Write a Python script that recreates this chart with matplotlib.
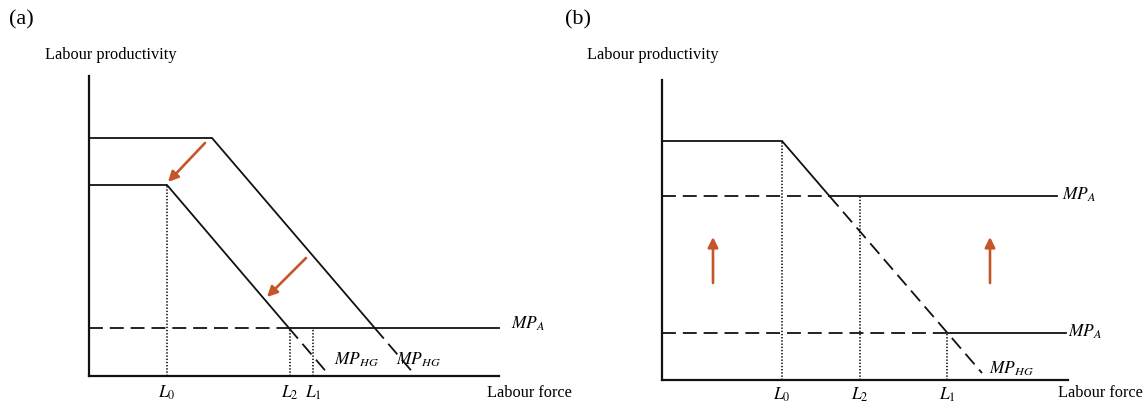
import matplotlib
matplotlib.use("Agg")
import matplotlib.pyplot as plt

plt.rcParams["font.family"] = ["Liberation Serif", "DejaVu Serif"]
plt.rcParams["mathtext.fontset"] = "stix"
plt.rcParams["lines.scale_dashes"] = False

# ---- Panel (a): human-capital MP curves shift down, agricultural MP fixed ----
a_xmax, a_ymax = 41.0, 30.0
a_hg_high = [[0.0, 12.3, 32.6], [23.8, 23.8, 0.1]]     # MP_HG before shift
a_hg_low = [[0.0, 7.8, 24.0], [19.1, 19.1, 0.1]]       # MP_HG after shift
a_mpa = 4.8                                            # MP_A level
a_L = {"L_0": 7.8, "L_2": 20.1, "L_1": 22.4}
a_L_tops = {"L_0": 19.1, "L_2": 4.8, "L_1": 4.8}
a_arrows = [((11.6, 23.3), (7.9, 19.4)), ((21.7, 11.8), (17.8, 7.9))]

# ---- Panel (b): agricultural MP shifts up, MP_HG fixed ----
b_xmax, b_ymax = 40.6, 30.0
b_hg = [[0.0, 12.0, 32.0], [23.9, 23.9, 0.7]]
b_mpa_high, b_mpa_low = 18.4, 4.7
b_mpa_high_end, b_mpa_low_end = 39.5, 40.4
b_L = {"L_0": 12.0, "L_2": 19.8, "L_1": 28.5}
b_L_tops = {"L_0": 23.9, "L_2": 18.4, "L_1": 4.7}
b_arrow_x = [5.1, 32.8]
b_arrow_y = (9.7, 14.3)

W, H = 1146, 405
fig = plt.figure(figsize=(W / 100, H / 100), dpi=100)

BLACK = "#111111"
ORANGE = "#c4562a"
LW = 1.3
DASH = (0, (10, 5))
DOT = (0, (1.0, 1.3))
TXT = 11.8
MATH = 12.5


def make_axes(ox, oy, xmax, ymax):
    ax = fig.add_axes([ox / W, (H - oy) / H, xmax * 10 / W, ymax * 10 / H])
    ax.set_xlim(0, xmax)
    ax.set_ylim(0, ymax)
    for s in ("top", "right"):
        ax.spines[s].set_visible(False)
    for s in ("left", "bottom"):
        ax.spines[s].set_linewidth(1.6)
        ax.spines[s].set_color(BLACK)
    ax.set_xticks([])
    ax.set_yticks([])
    ax.patch.set_alpha(0)
    return ax


def crossing_x(xs, ys, level):
    # x where the sloped segment of a piecewise MP curve reaches a given level
    x1, x2 = xs[1], xs[2]
    y1, y2 = ys[1], ys[2]
    return x1 + (level - y1) * (x2 - x1) / (y2 - y1)


def split_curve(ax, xs, ys, level):
    xc = crossing_x(xs, ys, level)
    ax.plot([xs[0], xs[1], xc], [ys[0], ys[1], level], color=BLACK, lw=LW,
            solid_joinstyle="miter", clip_on=False)
    ax.plot([xc, xs[2]], [level, ys[2]], color=BLACK, lw=LW, linestyle=DASH, clip_on=False)
    return xc


def orange_arrow(ax, start, end):
    ax.annotate("", xy=end, xytext=start,
                arrowprops=dict(arrowstyle="-|>,head_length=0.6,head_width=0.3",
                                color=ORANGE, lw=1.9, shrinkA=0, shrinkB=0))


# ------------------------- panel (a) -------------------------
ax = make_axes(89, 376, a_xmax, a_ymax)
x_low = split_curve(ax, *a_hg_low, a_mpa)
x_high = split_curve(ax, *a_hg_high, a_mpa)
ax.plot([0, x_low], [a_mpa, a_mpa], color=BLACK, lw=LW, linestyle=DASH)
ax.plot([x_low, a_xmax], [a_mpa, a_mpa], color=BLACK, lw=LW, clip_on=False)
for k, xv in a_L.items():
    ax.plot([xv, xv], [0, a_L_tops[k]], color=BLACK, lw=1.2, linestyle=DOT)
    ax.text(xv, -1.7, f"${k}$", ha="center", va="center", fontsize=MATH)
for s, e in a_arrows:
    orange_arrow(ax, s, e)
ax.text(42.2, 5.2, r"$MP_A$", ha="left", va="center", fontsize=MATH)
ax.text(24.5, 1.6, r"$MP_{HG}$", ha="left", va="center", fontsize=MATH)
ax.text(30.7, 1.6, r"$MP_{HG}$", ha="left", va="center", fontsize=MATH)
ax.text(-4.4, 32.1, "Labour productivity", ha="left", va="center", fontsize=TXT)
ax.text(39.8, -1.7, "Labour force", ha="left", va="center", fontsize=TXT)
fig.text(9 / W, 1 - 20 / H, "(a)", ha="left", va="center", fontsize=16)

# ------------------------- panel (b) -------------------------
bx = make_axes(662, 380, b_xmax, b_ymax)
xs, ys = b_hg
x_up = crossing_x(xs, ys, b_mpa_high)
x_dn = crossing_x(xs, ys, b_mpa_low)
bx.plot([xs[0], xs[1], x_up], [ys[0], ys[1], b_mpa_high], color=BLACK, lw=LW,
        solid_joinstyle="miter")
bx.plot([x_up, xs[2]], [b_mpa_high, ys[2]], color=BLACK, lw=LW, linestyle=DASH)
bx.plot([0, x_up], [b_mpa_high, b_mpa_high], color=BLACK, lw=LW, linestyle=DASH)
bx.plot([x_up, b_mpa_high_end], [b_mpa_high, b_mpa_high], color=BLACK, lw=LW)
bx.plot([0, x_dn], [b_mpa_low, b_mpa_low], color=BLACK, lw=LW, linestyle=DASH)
bx.plot([x_dn, b_mpa_low_end], [b_mpa_low, b_mpa_low], color=BLACK, lw=LW)
for k, xv in b_L.items():
    bx.plot([xv, xv], [0, b_L_tops[k]], color=BLACK, lw=1.2, linestyle=DOT)
    bx.text(xv, -1.5, f"${k}$", ha="center", va="center", fontsize=MATH)
for xv in b_arrow_x:
    orange_arrow(bx, (xv, b_arrow_y[0]), (xv, b_arrow_y[1]))
bx.text(40.0, 18.5, r"$MP_A$", ha="left", va="center", fontsize=MATH)
bx.text(40.6, 4.8, r"$MP_A$", ha="left", va="center", fontsize=MATH)
bx.text(32.7, 1.1, r"$MP_{HG}$", ha="left", va="center", fontsize=MATH)
bx.text(-7.5, 32.5, "Labour productivity", ha="left", va="center", fontsize=TXT)
bx.text(39.6, -1.3, "Labour force", ha="left", va="center", fontsize=TXT)
fig.text(565 / W, 1 - 20 / H, "(b)", ha="left", va="center", fontsize=16)

fig.savefig("out.png", dpi=100)
